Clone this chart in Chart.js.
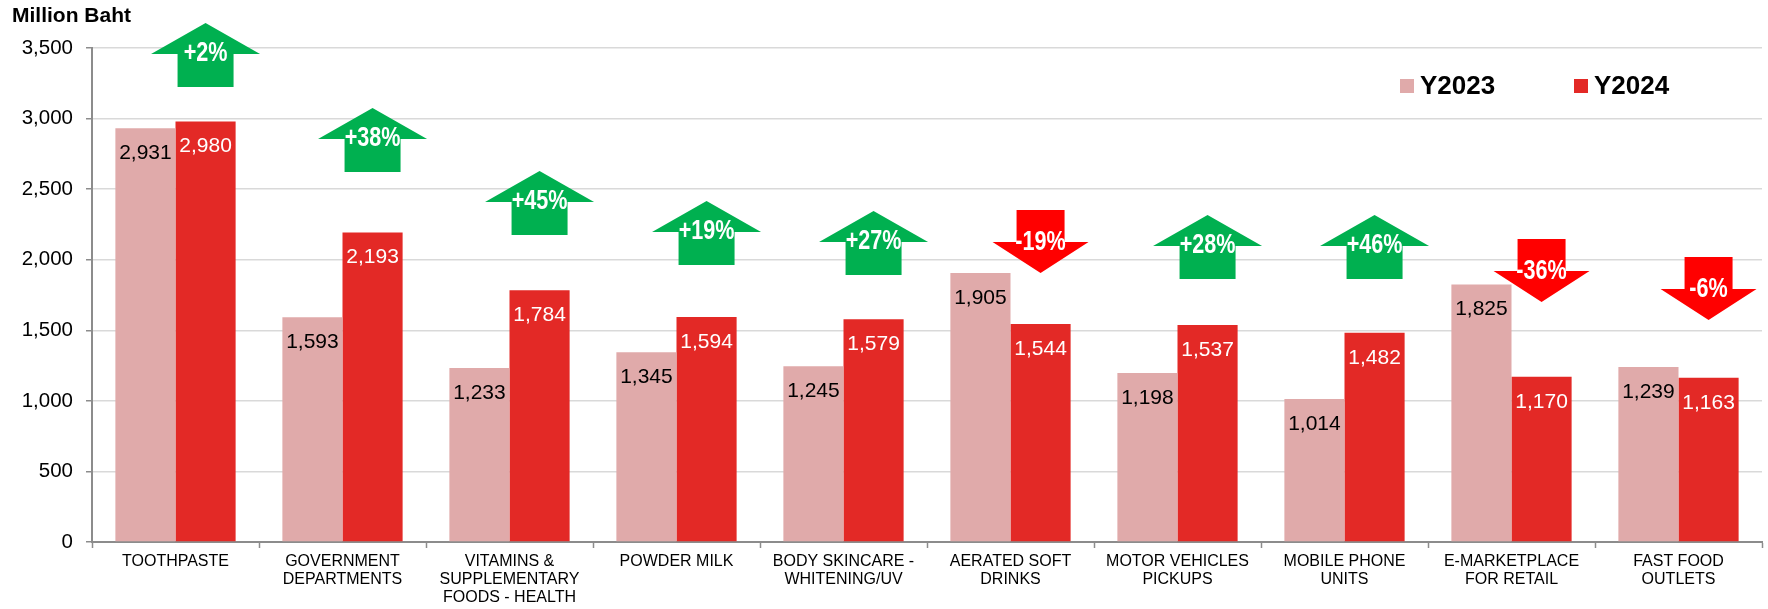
<!DOCTYPE html>
<html>
<head>
<meta charset="utf-8">
<script src="https://cdn.jsdelivr.net/npm/chart.js@4/dist/chart.umd.min.js"></script>
<style>
  html, body { margin: 0; padding: 0; background: #ffffff; }
  #wrap { width: 1768px; height: 609px; }
</style>
</head>
<body>
<div id="wrap"><canvas id="c" width="1768" height="609"></canvas></div>
<script>
const categories = [
  ['TOOTHPASTE'],
  ['GOVERNMENT', 'DEPARTMENTS'],
  ['VITAMINS &', 'SUPPLEMENTARY', 'FOODS - HEALTH'],
  ['POWDER MILK'],
  ['BODY SKINCARE -', 'WHITENING/UV'],
  ['AERATED SOFT', 'DRINKS'],
  ['MOTOR VEHICLES', 'PICKUPS'],
  ['MOBILE PHONE', 'UNITS'],
  ['E-MARKETPLACE', 'FOR RETAIL'],
  ['FAST FOOD', 'OUTLETS']
];
const y2023 = [2931, 1593, 1233, 1345, 1245, 1905, 1198, 1014, 1825, 1239];
const y2024 = [2980, 2193, 1784, 1594, 1579, 1544, 1537, 1482, 1170, 1163];
// top of each change-arrow annotation, in axis units
const arrowTop = [3677, 3075, 2629, 2416, 2345, 2352, 2317, 2317, 2147, 2019];
const yTicks = [0, 500, 1000, 1500, 2000, 2500, 3000, 3500];

const fmt = v => v.toLocaleString('en-US');

const annotations = {
  id: 'annotations',
  afterDatasetsDraw(chart) {
    const ctx = chart.ctx;
    chart.data.datasets.forEach((ds, di) => {
      const meta = chart.getDatasetMeta(di);
      meta.data.forEach((bar, i) => {
        ctx.save();
        ctx.font = '21px "Liberation Sans", Arial, sans-serif';
        ctx.fillStyle = di === 0 ? '#000000' : '#ffffff';
        ctx.textAlign = 'center';
        ctx.textBaseline = 'middle';
        ctx.fillText(fmt(ds.data[i]), bar.x, bar.y + 25);
        ctx.restore();
      });
    });
  },
  afterDraw(chart) {
    const ctx = chart.ctx;
    const ys = chart.scales.y;
    const redMeta = chart.getDatasetMeta(1);
    y2024.forEach((v, i) => {
      const pct = Math.round((v / y2023[i] - 1) * 100);
      const up = pct >= 0;
      const cx = redMeta.data[i].x;
      const top = ys.getPixelForValue(arrowTop[i]);
      ctx.save();
      ctx.beginPath();
      let textY;
      if (up) {
        ctx.fillStyle = '#00b050';
        const hw = 54.5, sw = 28, hh = 31, total = 64;
        ctx.moveTo(cx, top);
        ctx.lineTo(cx + hw, top + hh);
        ctx.lineTo(cx + sw, top + hh);
        ctx.lineTo(cx + sw, top + total);
        ctx.lineTo(cx - sw, top + total);
        ctx.lineTo(cx - sw, top + hh);
        ctx.lineTo(cx - hw, top + hh);
        textY = top + hh;
      } else {
        ctx.fillStyle = '#ff0000';
        const hw = 48, sw = 24, sh = 32, total = 63;
        ctx.moveTo(cx - sw, top);
        ctx.lineTo(cx + sw, top);
        ctx.lineTo(cx + sw, top + sh);
        ctx.lineTo(cx + hw, top + sh);
        ctx.lineTo(cx, top + total);
        ctx.lineTo(cx - hw, top + sh);
        ctx.lineTo(cx - sw, top + sh);
        textY = top + sh + 1;
      }
      ctx.closePath();
      ctx.fill();
      ctx.translate(cx, textY);
      ctx.scale(0.8, 1);
      ctx.font = 'bold 27px "Liberation Sans", Arial, sans-serif';
      ctx.fillStyle = '#ffffff';
      ctx.textAlign = 'center';
      ctx.textBaseline = 'middle';
      ctx.fillText((up ? '+' : '') + pct + '%', 0, 0);
      ctx.restore();
    });
    ctx.save();
    ctx.font = 'bold 21px "Liberation Sans", Arial, sans-serif';
    ctx.fillStyle = '#000000';
    ctx.textAlign = 'left';
    ctx.textBaseline = 'middle';
    ctx.fillText('Million Baht', 12, 16);
    ctx.restore();
    const legendX = [1400, 1574];
    chart.data.datasets.forEach((ds, di) => {
      ctx.save();
      ctx.fillStyle = ds.backgroundColor;
      ctx.fillRect(legendX[di], 79, 14, 14);
      ctx.font = 'bold 26px "Liberation Sans", Arial, sans-serif';
      ctx.fillStyle = '#000000';
      ctx.textAlign = 'left';
      ctx.textBaseline = 'middle';
      ctx.fillText(ds.label, legendX[di] + 20, 87);
      ctx.restore();
    });
  }
};

new Chart(document.getElementById('c'), {
  type: 'bar',
  data: {
    labels: categories,
    datasets: [
      { label: 'Y2023', data: y2023, backgroundColor: '#e0aaaa', categoryPercentage: 0.72, barPercentage: 1.0 },
      { label: 'Y2024', data: y2024, backgroundColor: '#e32926', categoryPercentage: 0.72, barPercentage: 1.0 }
    ]
  },
  options: {
    responsive: false,
    animation: false,
    devicePixelRatio: 1,
    layout: { padding: { left: 0, top: 48, right: 6, bottom: 0 } },
    plugins: {
      legend: { display: false },
      tooltip: { enabled: false },
      title: { display: false }
    },
    scales: {
      x: {
        afterFit(s) { s.height = 67; },
        grid: { drawOnChartArea: false, drawTicks: true, tickLength: 6, tickColor: '#8c8c8c', tickWidth: 1.5 },
        border: { display: true, color: '#8c8c8c', width: 2 },
        ticks: {
          color: '#000000',
          padding: 4,
          maxRotation: 0,
          autoSkip: false,
          font: { family: '"Liberation Sans", Arial, sans-serif', size: 16, lineHeight: 1.15 }
        }
      },
      y: {
        min: 0,
        max: 3500,
        afterFit(s) { s.width = 92; },
        afterBuildTicks(s) { s.ticks = yTicks.map(v => ({ value: v })); },
        grid: { color: '#d9d9d9', lineWidth: 1.5, tickLength: 6, tickColor: '#8c8c8c', tickWidth: 1.5 },
        border: { display: true, color: '#8c8c8c', width: 2 },
        ticks: {
          color: '#000000',
          padding: 13,
          callback: v => fmt(v),
          font: { family: '"Liberation Sans", Arial, sans-serif', size: 20.5 }
        }
      }
    }
  },
  plugins: [annotations]
});
</script>
</body>
</html>
